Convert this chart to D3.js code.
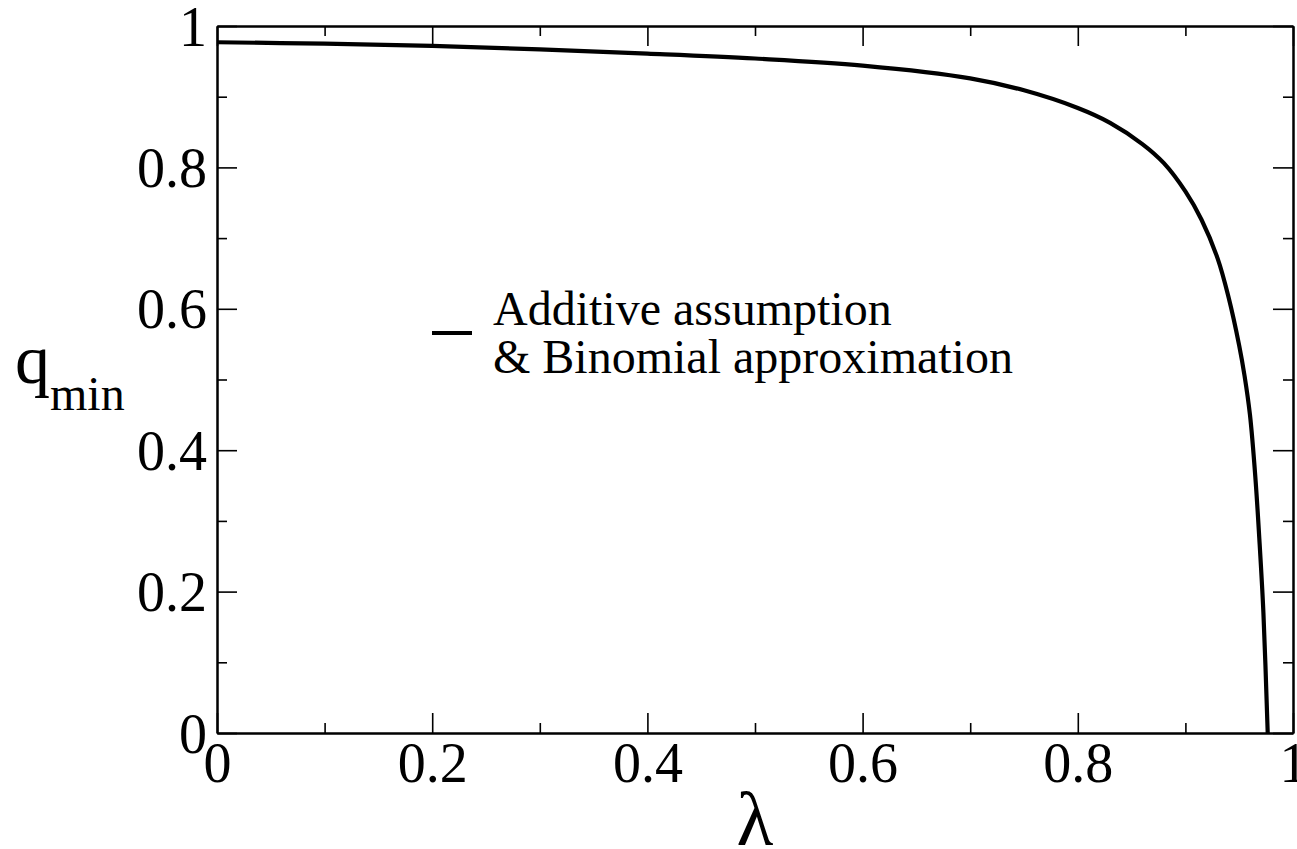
<!DOCTYPE html>
<html>
<head>
<meta charset="utf-8">
<script src="https://cdn.jsdelivr.net/npm/d3@7"></script>
<style>
  body { margin: 0; background: #fff; }
  svg { display: block; }
  text { font-family: "Liberation Serif", "Times New Roman", serif; fill: #000; }
</style>
</head>
<body>
<div id="chart"></div>
<script>
// curve: lambda vs q_min
var lambda = [0, 0.1, 0.2, 0.3, 0.4, 0.5, 0.6, 0.7, 0.75, 0.8, 0.83, 0.86, 0.88, 0.9,
              0.915, 0.93, 0.94, 0.95, 0.955, 0.96, 0.965, 0.9687, 0.9725, 0.9765];
var qmin   = [0.977, 0.975, 0.972, 0.967, 0.961, 0.954, 0.944, 0.926, 0.909, 0.884, 0.863, 0.833, 0.806, 0.766,
              0.726, 0.671, 0.617, 0.548, 0.505, 0.450, 0.362, 0.275, 0.170, 0.0];
var majorTicks = [0, 0.2, 0.4, 0.6, 0.8, 1];
var minorTicks = [0.1, 0.3, 0.5, 0.7, 0.9];
var majorLabels = ["0", "0.2", "0.4", "0.6", "0.8", "1"];
var legendLines = ["Additive assumption", "& Binomial approximation"];

var W = 1297, H = 849;
var mLeft = 217, mRight = 1293, mTop = 26, mBottom = 733;

var svg = d3.select("#chart").append("svg").attr("width", W).attr("height", H);

var x = d3.scaleLinear().domain([0, 1]).range([mLeft, mRight]);
var y = d3.scaleLinear().domain([0, 1]).range([mBottom, mTop]);

function fmt(d) { return majorLabels[majorTicks.indexOf(d)]; }

// major + minor ticks on all four sides, all pointing inward
function addAxis(axisFn, scale, tx, ty, size, values, labels) {
    var a = axisFn(scale).tickValues(values).tickSizeInner(-size).tickSizeOuter(0)
        .tickFormat(labels ? fmt : "");
    var g = svg.append("g").attr("transform", "translate(" + tx + "," + ty + ")").call(a);
    g.selectAll("line").attr("stroke", "#000").attr("stroke-width", 1.6);
    g.select(".domain").attr("stroke", "#000").attr("stroke-width", 2);
    return g;
}

var gx = addAxis(d3.axisBottom, x, 0, mBottom, 20, majorTicks, true);
addAxis(d3.axisBottom, x, 0, mBottom, 10, minorTicks, false);
addAxis(d3.axisTop, x, 0, mTop, 20, majorTicks, false);
addAxis(d3.axisTop, x, 0, mTop, 10, minorTicks, false);
var gy = addAxis(d3.axisLeft, y, mLeft, 0, 20, majorTicks, true);
addAxis(d3.axisLeft, y, mLeft, 0, 10, minorTicks, false);
addAxis(d3.axisRight, y, mRight, 0, 20, majorTicks, false);
addAxis(d3.axisRight, y, mRight, 0, 10, minorTicks, false);

gx.selectAll("text").attr("y", 49).attr("dy", null)
  .style("font-size", "56px").style("font-family", "'Liberation Serif', serif").attr("fill", "#000");
gy.selectAll("text").attr("x", -10).attr("y", 19).attr("dy", null)
  .style("font-size", "56px").style("font-family", "'Liberation Serif', serif").attr("fill", "#000");

// curve
var pts = lambda.map(function(l, i) { return [l, qmin[i]]; });
var line = d3.line().x(function(d) { return x(d[0]); }).y(function(d) { return y(d[1]); })
    .curve(d3.curveCatmullRom.alpha(0.5));
svg.append("path").datum(pts).attr("d", line)
    .attr("fill", "none").attr("stroke", "#000").attr("stroke-width", 4.2).attr("stroke-linejoin", "round");

// legend
svg.append("line").attr("x1", 432).attr("x2", 472).attr("y1", 333).attr("y2", 333)
    .attr("stroke", "#000").attr("stroke-width", 4);
svg.selectAll(".leg").data(legendLines).enter().append("text").attr("class", "leg")
    .attr("x", 493).attr("y", function(d, i) { return 325 + i * 48; })
    .style("font-size", "48px").text(function(d) { return d; });

// axis titles
svg.append("text").attr("x", (mLeft + mRight) / 2).attr("y", 845).attr("text-anchor", "middle")
    .style("font-size", "76px").text("λ");
var yl = svg.append("text").attr("x", 15).attr("y", 383).style("font-size", "70px");
yl.append("tspan").text("q");
yl.append("tspan").attr("y", 410).style("font-size", "48px").text("min");
</script>
</body>
</html>
